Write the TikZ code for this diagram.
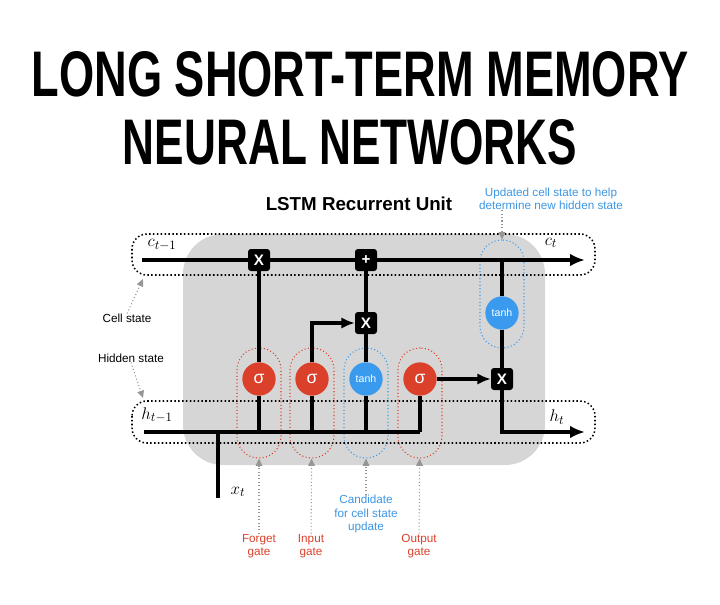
\documentclass[tikz,border=0pt]{standalone}
\usepackage{fontspec}
\setmainfont{Liberation Sans}
\usetikzlibrary{arrows.meta}
\usetikzlibrary{positioning}
\usepackage{amsmath}
\definecolor{sigred}{RGB}{219,64,42}
\definecolor{tanhblue}{RGB}{58,155,238}
\definecolor{noteblue}{RGB}{60,150,228}
\definecolor{unitgray}{RGB}{214,214,214}
\definecolor{ptrgray}{RGB}{150,150,150}

\begin{document}
\begin{tikzpicture}[%
        x=0.03cm, y=-0.03cm,
        every node/.style={inner sep=0pt},
        wire/.style={line width=3.2pt},
        bigarr/.style={-{Latex[length=4.5mm,width=3.8mm]}},
        smallarr/.style={-{Latex[length=4mm,width=3.4mm]}},
        gate/.style={circle, fill=sigred, minimum size=1cm, text=white, font=\fontsize{15}{15}\selectfont},
        tgate/.style={circle, fill=tanhblue, minimum size=1cm, text=white, font=\fontsize{9}{9}\selectfont},
        op/.style={rectangle, rounded corners=2.5pt, fill=black, minimum size=0.66cm, text=white, font=\fontsize{13}{13}\bfseries},
        gatebox/.style={draw=sigred, dotted, line width=0.9pt, rounded corners=0.65cm, minimum width=1.32cm, minimum height=3.3cm},
        tanhbox/.style={gatebox, draw=tanhblue},
        statebox/.style={draw, dotted, line width=1.3pt, rounded corners=0.45cm},
        note/.style={align=center, font=\fontsize{10}{11.5}\selectfont},
        pointer/.style={draw=ptrgray, dotted, line width=0.9pt, -{Triangle[length=2.2mm,width=2mm,fill=ptrgray]}},
      ]
      \useasboundingbox (0,0) rectangle (720,604);
      \node (t1) at (360,74.5) {\resizebox{19.68cm}{1.35cm}{\bfseries LONG SHORT-TERM MEMORY}};
      \node (t2) at (350,142.5) {\resizebox{13.62cm}{1.35cm}{\bfseries NEURAL NETWORKS}};
      \node (unit) at (359,204) {\fontsize{16}{16}\bfseries LSTM Recurrent Unit};

      \fill [unitgray, rounded corners=1.2cm] (183,234) rectangle (545,465);
      \draw [statebox] (132,234) rectangle (595,275);
      \draw [statebox] (132,401) rectangle (595,443);

      \node [gatebox] (fb) at (259,403) {};
      \node [gatebox] (ib) at (312,403) {};
      \node [tanhbox] (cb) at (366,403) {};
      \node [gatebox] (ob) at (420,403) {};
      \node [tanhbox, minimum height=3.24cm] (tb) at (502,294) {};

      \node [gate] (fg) at (259,379) {σ};
      \node [gate] (ig) at (312,379) {σ};
      \node [tgate] (cg) at (366,379) {tanh};
      \node [gate] (og) at (420,379) {σ};
      \node [tgate] (tg) at (502,313) {tanh};

      \node [op] (fx) at (259,260) {X};
      \node [op] (ax) at (366,260) {+};
      \node [op] (ix) at (366,323) {X};
      \node [op] (ox) at (502,379) {X};

      \coordinate (cin) at (142,260);
      \coordinate (cout) at (585,260);
      \coordinate (cj) at (502,260);
      \coordinate (hin) at (144,432);
      \coordinate (hout) at (585,432);
      \coordinate (hx) at (218,432);
      \coordinate (xin) at (218,498);
      \coordinate (hf) at (259,432);
      \coordinate (hi) at (312,432);
      \coordinate (hc) at (366,432);
      \coordinate (ho) at (420,432);

      \draw [wire] (cin) -- (fx) -- (ax);
      \draw [wire, bigarr] (ax) -- (cout);
      \draw [wire] (hin) -- (ho);
      \draw [wire] (xin) -- (hx);
      \path [draw, wire] (hf) edge (fg)
      (fg) edge (fx)
      (hi) edge (ig)
      (hc) edge (cg)
      (cg) edge (ix)
      (ix) edge (ax)
      (ho) edge (og)
      (cj) edge (tg)
      (tg) edge (ox);
      \draw [wire, smallarr] (ig) |- (ix);
      \draw [wire, smallarr] (og) -- (ox);
      \draw [wire, bigarr] (ox) |- (hout);

      \node (c0) at (162,245) {\fontsize{15}{15}\selectfont $c_{t-1}$};
      \node (c1) at (551,243) {\fontsize{15}{15}\selectfont $c_{t}$};
      \node (h0) at (157,415) {\fontsize{15}{15}\selectfont $h_{t-1}$};
      \node (h1) at (557,417) {\fontsize{15}{15}\selectfont $h_{t}$};
      \node (x0) at (238,492) {\fontsize{15}{15}\selectfont $x_{t}$};

      \node [note] (cs) at (127,318) {Cell state};
      \node [note] (hs) at (131,358) {Hidden state};
      \coordinate (csp) at (143,279);
      \coordinate (hsp) at (143,398);
      \draw [pointer] (cs.north) -- (csp);
      \draw [pointer] (hs.south) -- (hsp);

      \node [note, text=noteblue] (upd) at (551,199) {Updated cell state to help\\determine new hidden state};
      \draw [pointer] (upd.south -| tb.north) -- (tb.north);

      \node [note, text=sigred] (fl) at (259,546) {Forget\\gate};
      \node [note, text=sigred] (il) at (311,546) {Input\\gate};
      \node [note, text=noteblue] (cl) at (366,514) {Candidate\\for cell state\\update};
      \node [note, text=sigred] (ol) at (419,546) {Output\\gate};
      \path [pointer] (fl) edge (fb)
      (il) edge (ib)
      (cl) edge (cb)
      (ol) edge (ob);
     \end{tikzpicture}
\end{document}
